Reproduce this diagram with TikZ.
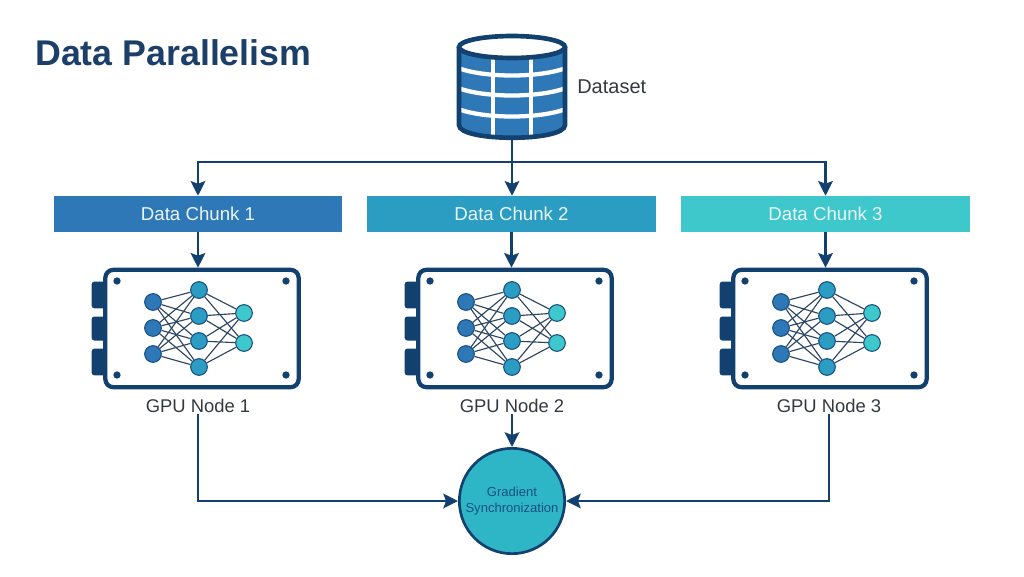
\documentclass[tikz,border=0pt]{standalone}
\usepackage{fontspec}
\setmainfont{Liberation Sans}
\usetikzlibrary{arrows.meta}
\definecolor{navy}{HTML}{12416F}
\definecolor{titleblue}{HTML}{1B3F69}
\definecolor{labelgrey}{HTML}{33393F}
\definecolor{tone1}{HTML}{2F78B7}
\definecolor{tone2}{HTML}{2B9DC3}
\definecolor{tone3}{HTML}{3EC8CC}
\definecolor{syncfill}{HTML}{2FB6C6}
\definecolor{wirecolor}{HTML}{2C4560}
\tikzset{
  link/.style={draw=navy,line width=1.8pt,-{Stealth[length=11pt,width=11pt,inset=2pt]}},
  chunkbox/.style={minimum width=216.5pt,minimum height=27pt,inner sep=0pt,text=white!90!tone2,font=\fontsize{14}{16}\selectfont},
  boardbox/.style={draw=navy,line width=3.2pt,rounded corners=6pt,fill=white,minimum width=145pt,minimum height=88pt},
  tabbox/.style={fill=navy,rounded corners=2pt,minimum width=11pt,inner sep=0pt},
  screw/.style={circle,fill=navy,minimum size=5.5pt,inner sep=0pt},
  neuron/.style={circle,draw=navy!75!tone1,line width=.8pt,minimum size=12.5pt,inner sep=0pt},
  wire/.style={draw=wirecolor,line width=.85pt},
  gpulabel/.style={text=labelgrey,inner sep=1pt,font=\fontsize{13.8}{16}\selectfont}
}
\begin{document}
\begin{tikzpicture}[x=.75pt,y=-.75pt]
\useasboundingbox (0,0) rectangle (1024,576);

\node[anchor=base west,inner sep=0pt,text=titleblue,font=\fontsize{26.8}{30}\selectfont\bfseries] (title) at (35,65) {Data Parallelism};

% dataset
\fill[tone1] (458,47) -- (458,125) .. controls (458,143) and (566,143) .. (566,125) -- (566,47) -- cycle;
\foreach \y in {68,88,109}
  \draw[white,line width=3.2pt] (458,\y) .. controls (485,\y+10) and (539,\y+10) .. (566,\y);
\foreach \x in {493,531}
  \draw[white,line width=3.6pt] (\x,55) -- (\x,136);
\draw[navy,line width=3.5pt,fill=white] (512,47) ellipse [x radius=53,y radius=11];
\draw[navy,line width=3.5pt] (459,47) -- (459,125) .. controls (459,142) and (565,142) .. (565,125) -- (565,47);
\coordinate (dbbase) at (512,138);
\coordinate (split) at (512,162);
\node[anchor=west,inner sep=0pt,text=labelgrey,font=\fontsize{15}{16}\selectfont] (dataset) at (577,87) {Dataset};

\node[chunkbox,fill=tone1] (chunk1) at (198,214) {Data Chunk 1};
\node[chunkbox,fill=tone2] (chunk2) at (511.5,214) {Data Chunk 2};
\node[chunkbox,fill=tone3] (chunk3) at (825.5,214) {Data Chunk 3};

\draw[navy,line width=1.8pt] (dbbase) -- (split);
\draw[link] (split) -| (chunk1);
\draw[link] (split) -- (split |- chunk2.north);
\draw[link] (split) -| (chunk3);

% boards
\foreach \b/\dx in {1/0,2/313,3/628}{
\begin{scope}[shift={(\dx,0)}]
\node[tabbox,minimum height=20pt] (tabA\b) at (99,295) {};
\node[tabbox,minimum height=18pt] (tabB\b) at (99,328.5) {};
\node[tabbox,minimum height=20pt] (tabC\b) at (99,362) {};
\node[boardbox] (board\b) at (202,328.5) {};
\node[screw] (sa\b) at (117,281) {};
\node[screw] (sb\b) at (286,281) {};
\node[screw] (sc\b) at (117,375) {};
\node[screw] (sd\b) at (286,375) {};

\node[neuron,fill=tone1] (in1\b) at (153,302) {};
\node[neuron,fill=tone1] (in2\b) at (153,328) {};
\node[neuron,fill=tone1] (in3\b) at (153,354) {};
\node[neuron,fill=tone2] (hid1\b) at (199,290) {};
\node[neuron,fill=tone2] (hid2\b) at (199,316) {};
\node[neuron,fill=tone2] (hid3\b) at (199,341) {};
\node[neuron,fill=tone2] (hid4\b) at (199,367) {};
\node[neuron,fill=tone3] (out1\b) at (244,313) {};
\node[neuron,fill=tone3] (out2\b) at (244,343) {};

\foreach \h in {1,2,3,4}{
  \foreach \i in {1,2,3}
    \draw[wire] (in\i\b) -- (hid\h\b);
  \foreach \o in {1,2}
    \draw[wire] (hid\h\b) -- (out\o\b);
}
\end{scope}
\draw[link] (chunk\b) -- (chunk\b |- board\b.north);
}

\node[gpulabel] (gpu1) at (198,406) {GPU Node 1};
\node[gpulabel] (gpu2) at (512,406) {GPU Node 2};
\node[gpulabel] (gpu3) at (829,406) {GPU Node 3};

\node[circle,draw=navy,line width=2pt,fill=syncfill,minimum size=79pt,inner sep=0pt,align=center,text=navy!80!tone2,font=\fontsize{9.8}{12}\selectfont] (sync) at (512,501) {Gradient\\Synchronization};

\draw[link] (gpu1) |- (sync);
\draw[link] (gpu2) -- (sync);
\draw[link] (gpu3) |- (sync);

\end{tikzpicture}
\end{document}
